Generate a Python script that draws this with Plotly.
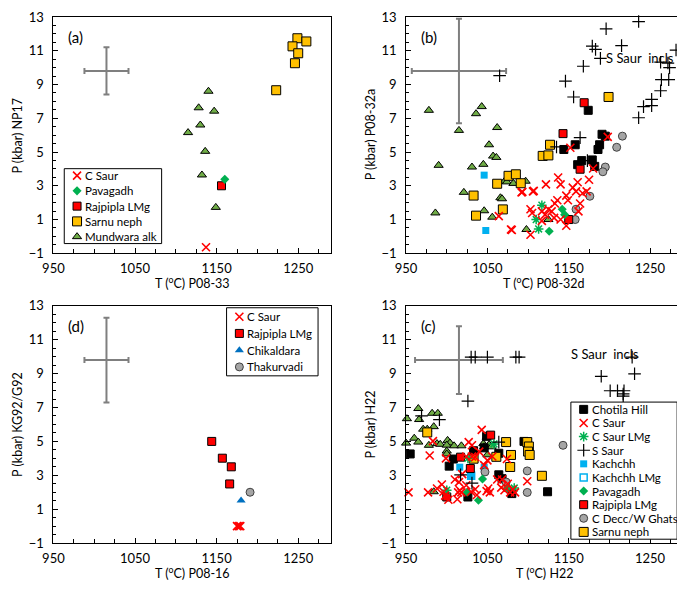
import plotly.graph_objects as go

# ---- data: (T degC, P kbar) pairs ----
# panel (a)  P08-33 / NP17
a_csaur = [(1137, -0.64)]
a_pavagadh = [(1160, 3.38)]
a_rajpipla = [(1156, 3.0)]
a_sarnu = [(1249, 11.74), (1260, 11.55), (1243, 11.26), (1250, 10.85), (1246, 10.26), (1223, 8.66)]
a_mundwara = [(1140, 8.6), (1128, 7.62), (1147, 7.42), (1130, 6.6), (1115, 6.15),
              (1136, 5.04), (1132, 3.64), (1149, 1.72)]

# panel (b)  P08-32d / P08-32a
b_mundwara = [(978, 7.47), (1043, 7.69), (1036, 7.27), (1015, 6.28), (1062, 6.45), (1052, 5.43),
              (1057, 4.76), (1061, 4.68), (990, 4.21), (1031, 4.11), (1045, 4.27), (1071, 3.27),
              (1074, 3.23), (1082, 3.14), (1097, 3.27), (1021, 2.61), (1066, 2.29), (1068, 2.23),
              (986, 1.39), (1046, 1.52), (1056, 1.14), (1098, 0.41), (1125, 1.0)]
b_sarnu = [(1076, 3.59), (1085, 3.68), (1062, 3.12), (1091, 3.15), (1033, 2.42), (1036, 1.23),
           (1069, 1.6), (1127, 5.43), (1118, 4.77), (1125, 4.8), (1199, 8.26)]
b_kachchh = [(1046, 3.63), (1048, 0.35)]
b_chotila = [(1174, 7.47), (1158, 5.43), (1144, 5.15), (1191, 6.05), (1195, 5.94), (1188, 5.43),
             (1186, 5.15), (1166, 4.49), (1161, 4.25), (1179, 4.53), (1182, 4.15)]
b_rajpipla = [(1143, 6.09), (1164, 3.98), (1150, 1.0), (1169, 7.92)]
b_cdecc = [(1216, 5.94), (1209, 5.28), (1195, 4.11), (1192, 3.83), (1176, 2.38), (1159, 1.61), (1158, 1.0)]
b_pavagadh = [(1142, 1.61), (1145, 1.29), (1126, 0.31)]
b_csaur_lmg = [(1117, 1.85), (1110, 1.0), (1113, 0.44)]
b_csaur = [(1137, 3.49), (1140, 3.08), (1122, 3.08), (1106, 2.67), (1092, 2.61), (1161, 3.21),
           (1175, 3.36), (1155, 2.89), (1159, 2.67), (1167, 2.56), (1172, 2.67), (1147, 2.42),
           (1149, 2.14), (1136, 2.14), (1133, 1.95), (1164, 1.95), (1162, 1.48), (1103, 1.61),
           (1105, 1.39), (1117, 1.48), (1125, 1.61), (1129, 1.48), (1121, 1.29), (1140, 1.0),
           (1132, 1.1), (1117, 0.92), (1147, 0.63), (1103, 0.1), (1152, 5.25), (1180, 4.02),
           (1198, 5.9), (1093, 2.64), (1107, 2.7), (1064, 1.2), (1079, 0.41), (1080, 0.38)]
b_ssaur = [(1236, 12.73), (1196, 12.3), (1179, 11.27), (1183, 11.08), (1215, 11.3), (1282, 11.04),
           (1189, 10.55), (1168, 10.08), (1263, 10.32), (1272, 10.27), (1274, 10.0), (1264, 9.29),
           (1273, 9.29), (1146, 9.2), (1263, 8.63), (1156, 8.26), (1252, 8.12), (1252, 7.75),
           (1242, 7.69), (1236, 7.03), (1065, 9.52), (1164, 5.85), (1135, 5.3), (1173, 4.49)]

# panel (d)  P08-16 / KG92/G92
d_csaur = [(1175, 0.0), (1177, 0.0), (1179, 0.0)]
d_rajpipla = [(1144, 5.0), (1157, 4.01), (1168, 3.5), (1166, 2.49)]
d_chikaldara = [(1180, 1.51)]
d_thakurvadi = [(1191, 2.0)]

# panel (c)  H22
c_mundwara = [(965, 6.94), (951, 6.34), (966, 6.29), (982, 6.66), (989, 6.66), (971, 5.72),
              (976, 5.72), (984, 5.87), (950, 4.9), (960, 5.19), (965, 4.96), (978, 4.77),
              (988, 4.87), (992, 4.83), (1001, 5.06), (1004, 4.91), (1000, 4.78), (1009, 4.74),
              (1018, 4.74), (1000, 4.43), (1000, 4.26), (984, 2.03), (1049, 5.25), (1045, 4.87),
              (1052, 4.81), (1050, 4.21), (1055, 4.68), (1046, 4.68)]
c_chotila = [(955, 4.26), (1003, 3.54), (1008, 3.96), (1033, 4.45), (1046, 4.62), (1049, 5.3),
             (1064, 4.3), (1064, 3.03), (1068, 2.8), (1026, 1.72), (1080, 1.92), (1095, 5.0), (1124, 2.03)]
c_csaur = [(953, 1.99), (979, 4.17), (983, 5.02), (977, 1.99), (988, 2.22), (994, 2.46), (996, 2.03),
           (998, 1.8), (1002, 1.56), (999, 4.0), (1010, 2.75), (1014, 1.99), (1013, 1.59), (1016, 2.12),
           (1015, 2.6), (1019, 3.07), (1018, 1.99), (1027, 4.96), (1031, 4.77), (1024, 4.11),
           (1024, 2.41), (1030, 2.03), (1035, 2.18), (1037, 1.84), (1040, 4.4), (1043, 5.68),
           (1046, 3.6), (1049, 2.07), (1051, 2.22), (1053, 1.99), (1062, 2.75), (1067, 2.27),
           (1068, 2.75), (1071, 2.12), (1075, 2.5), (1078, 1.99), (1084, 1.99), (1081, 2.16),
           (1074, 3.96), (1099, 2.65), (1050, 3.88), (1035, 4.07), (1056, 4.11), (1031, 4.11)]
c_csaur_lmg = [(1000, 2.12), (1083, 2.25), (1058, 4.85), (1026, 4.0)]
c_ssaur = [(1030, 9.97), (1035, 9.97), (1050, 9.97), (1085, 9.97), (1089, 9.97), (1026, 7.38),
           (969, 6.51), (991, 6.28), (1064, 4.96), (1017, 3.03), (1031, 2.54), (1228, 9.97),
           (1231, 8.99), (1190, 8.84), (1201, 7.99), (1210, 7.99), (1218, 7.99), (1217, 7.8), (1217, 7.67)]
c_kachchh = [(1016, 3.48), (1030, 2.97), (1046, 3.48)]
c_kachchh_lmg = [(1030, 2.97)]
c_pavagadh = [(1044, 2.78), (1025, 2.0), (1039, 1.53), (1074, 2.2)]
c_rajpipla = [(1017, 4.07), (1029, 3.4), (1000, 1.72), (1054, 5.37)]
c_cdecc = [(1047, 3.2), (1073, 2.6), (1099, 3.26), (1099, 1.99), (1143, 4.77)]
c_sarnu = [(976, 5.53), (1033, 3.98), (1073, 4.96), (1079, 4.2), (1061, 4.09), (1078, 3.49),
           (1099, 4.96), (1101, 4.7), (1100, 4.4), (1102, 4.2), (1117, 2.97)]

# uncertainty crosses, panels a, b, d, c
err_center = (1015, 9.8)
err_t = [27, 58, 27, 54]
err_p = [1.4, 3.1, 2.5, 2.0]

# legend contents per panel
leg_a = ["C Saur", "Pavagadh", "Rajpipla LMg", "Sarnu neph", "Mundwara alk"]
leg_d = ["C Saur", "Rajpipla LMg", "Chikaldara", "Thakurvadi"]
leg_c = ["Chotila Hill", "C Saur", "C Saur LMg", "S Saur", "Kachchh", "Kachchh LMg",
         "Pavagadh", "Rajpipla LMg", "C Decc/W Ghats", "Sarnu neph"]

# ---- marker styles ----
BLK = dict(color="black", width=1)
STYLE = {
    "C Saur": dict(symbol="x-thin-open", size=8, color="#FF0000", line=dict(color="#FF0000", width=1.6)),
    "C Saur LMg": dict(symbol="asterisk-open", size=8, color="#00B050", line=dict(color="#00B050", width=1.5)),
    "S Saur": dict(symbol="cross-thin-open", size=9, color="black", line=dict(color="black", width=1.2)),
    "Pavagadh": dict(symbol="diamond", size=7, color="#00B050", line=dict(width=0)),
    "Rajpipla LMg": dict(symbol="square", size=8, color="#FF0000", line=BLK),
    "Sarnu neph": dict(symbol="square", size=9, color="#FFC000", line=BLK),
    "Mundwara alk": dict(symbol="triangle-up", size=8, color="#70AD47", line=BLK),
    "Chotila Hill": dict(symbol="square", size=8, color="black", line=BLK),
    "Kachchh": dict(symbol="square", size=7, color="#00B0F0", line=dict(width=0)),
    "Kachchh LMg": dict(symbol="square-open", size=7, color="#00B0F0", line=dict(color="#00B0F0", width=1.5)),
    "C Decc/W Ghats": dict(symbol="circle", size=8, color="#A5A5A5", line=dict(color="#404040", width=1)),
    "Thakurvadi": dict(symbol="circle", size=8, color="#A5A5A5", line=dict(color="#404040", width=1)),
    "Chikaldara": dict(symbol="triangle-up", size=8, color="#0070C0", line=dict(width=0)),
}

fig = go.Figure()


def add(points, name, ax):
    fig.add_trace(go.Scatter(
        x=[p[0] for p in points], y=[p[1] for p in points], mode="markers", name=name,
        marker=STYLE[name], xaxis="x" + ax, yaxis="y" + ax, cliponaxis=False, showlegend=False,
    ))


# error crosses first so points sit on top
for ax, et, ep in zip(["", "2", "3", "4"], err_t, err_p):
    fig.add_trace(go.Scatter(
        x=[err_center[0]], y=[err_center[1]], mode="markers", marker=dict(size=1, color="#7F7F7F"),
        error_x=dict(type="constant", value=et, color="#7F7F7F", thickness=2, width=3),
        error_y=dict(type="constant", value=ep, color="#7F7F7F", thickness=2, width=3),
        xaxis="x" + ax, yaxis="y" + ax, showlegend=False, hoverinfo="skip",
    ))

# (a)
add(a_mundwara, "Mundwara alk", "")
add(a_sarnu, "Sarnu neph", "")
add(a_rajpipla, "Rajpipla LMg", "")
add(a_pavagadh, "Pavagadh", "")
add(a_csaur, "C Saur", "")

# (b)
add(b_mundwara, "Mundwara alk", "2")
add(b_sarnu, "Sarnu neph", "2")
add(b_kachchh, "Kachchh", "2")
add(b_chotila, "Chotila Hill", "2")
add(b_cdecc, "C Decc/W Ghats", "2")
add(b_rajpipla, "Rajpipla LMg", "2")
add(b_pavagadh, "Pavagadh", "2")
add(b_csaur_lmg, "C Saur LMg", "2")
add(b_csaur, "C Saur", "2")
add(b_ssaur, "S Saur", "2")

# (d)
add(d_rajpipla, "Rajpipla LMg", "3")
add(d_chikaldara, "Chikaldara", "3")
add(d_thakurvadi, "Thakurvadi", "3")
add(d_csaur, "C Saur", "3")

# (c)
add(c_mundwara, "Mundwara alk", "4")
add(c_chotila, "Chotila Hill", "4")
add(c_sarnu, "Sarnu neph", "4")
add(c_kachchh, "Kachchh", "4")
add(c_kachchh_lmg, "Kachchh LMg", "4")
add(c_cdecc, "C Decc/W Ghats", "4")
add(c_rajpipla, "Rajpipla LMg", "4")
add(c_pavagadh, "Pavagadh", "4")
add(c_csaur_lmg, "C Saur LMg", "4")
add(c_csaur, "C Saur", "4")
add(c_ssaur, "S Saur", "4")

FONT = "Lato"
# page body keeps an 8px margin, so the figure is that much smaller and
# window-pixel positions below are shifted by OFF
OFF = 8
W, H = 685 - OFF, 590 - OFF


def xdom(p0, p1):
    return [max(0, (p0 - OFF) / W), min(1, (p1 - OFF) / W)]


def ydom(top, bottom):
    return [max(0, 1 - (bottom - OFF) / H), min(1, 1 - (top - OFF) / H)]


def xax(domain, anchor):
    return dict(domain=domain, anchor=anchor, range=[950, 1290], tickvals=[950, 1050, 1150, 1250],
                ticks="inside", ticklen=5, tickcolor="black", showline=True, mirror=True,
                linecolor="black", linewidth=1, showgrid=False, zeroline=False, ticklabelstandoff=3,
                minor=dict(tick0=950, dtick=25, ticks="inside", ticklen=4, tickcolor="black"),
                tickfont=dict(size=13, color="black"))


def yax(domain, anchor):
    return dict(domain=domain, anchor=anchor, range=[-1, 13], tickvals=[-1, 1, 3, 5, 7, 9, 11, 13],
                ticks="inside", ticklen=5, tickcolor="black", showline=True, mirror=True,
                linecolor="black", linewidth=1, showgrid=False, zeroline=False, ticklabelstandoff=6,
                minor=dict(tick0=-1, dtick=0.5, ticks="inside", ticklen=3, tickcolor="black"),
                tickfont=dict(size=13, color="black"))


xl = xdom(43, 325)
xr = xdom(401.5, 682.5)
yt = ydom(9, 252)
yb = ydom(306, 550)

fig.update_layout(
    width=W, height=H, margin=dict(l=0, r=0, t=0, b=0),
    plot_bgcolor="rgba(0,0,0,0)", paper_bgcolor="white",
    font=dict(family=FONT, color="black"), showlegend=False,
    xaxis=xax(xl, "y"), yaxis=yax(yt, "x"),
    xaxis2=xax(xr, "y2"), yaxis2=yax(yt, "x2"),
    xaxis3=xax(xl, "y3"), yaxis3=yax(yb, "x3"),
    xaxis4=xax(xr, "y4"), yaxis4=yax(yb, "x4"),
    # window-pixel overlay used only for the framed legends
    xaxis5=dict(domain=[0, 1], anchor="y5", range=[OFF, OFF + W], visible=False, fixedrange=True),
    yaxis5=dict(domain=[0, 1], anchor="x5", range=[OFF + H, OFF], visible=False, fixedrange=True),
)

panels = [("x", "y", "(a)", "T (<sup>o</sup>C) P08-33", "P (kbar) NP17"),
          ("x2", "y2", "(b)", "T (<sup>o</sup>C) P08-32d", "P (kbar) P08-32a"),
          ("x3", "y3", "(d)", "T (<sup>o</sup>C) P08-16", "P (kbar) KG92/G92"),
          ("x4", "y4", "(c)", "T (<sup>o</sup>C) H22", "P (kbar) H22")]
for xa, ya, tag, xt, yt_ in panels:
    fig.add_annotation(text=tag, x=0.045, y=0.96, xref=xa + " domain", yref=ya + " domain",
                       xanchor="left", yanchor="top", showarrow=False, font=dict(size=15, color="black"))
    fig.add_annotation(text=xt, x=0.5, y=0, xref=xa + " domain", yref=ya + " domain",
                       yshift=-29, yanchor="middle", showarrow=False, font=dict(size=12.5, color="black"))
    fig.add_annotation(text=yt_, x=0, y=0.5, xref=xa + " domain", yref=ya + " domain", textangle=-90,
                       xshift=-36, xanchor="center", showarrow=False, font=dict(size=12.5, color="black"))

fig.add_annotation(text="S Saur  incls", x=1194, y=10.55, xref="x2", yref="y2", xanchor="left",
                   showarrow=False, font=dict(size=13, color="black"))
fig.add_annotation(text="S Saur  incls", x=1150, y=10.16, xref="x4", yref="y4", xanchor="left",
                   showarrow=False, font=dict(size=13, color="black"))

# framed legends: (names, left, top, right, bottom, row height) in window pixels
for names, x0, y0, x1, y1, rh in [(leg_a, 54, 165, 153, 242, 15.7),
                                  (leg_d, 219, 308, 312, 378, 17.2),
                                  (leg_c, 569, 405, 677, 546, 14.0)]:
    fig.add_shape(type="rect", x0=x0, x1=x1, y0=y0, y1=y1, xref="x5", yref="y5", layer="below",
                  line=dict(color="black", width=1), fillcolor="white")
    pad = (y1 - y0 - rh * len(names)) / 2
    for i, nm in enumerate(names):
        cy = y0 + pad + rh * (i + 0.5)
        fig.add_trace(go.Scatter(x=[x0 + 13], y=[cy], mode="markers", marker=STYLE[nm],
                                 xaxis="x5", yaxis="y5", showlegend=False, hoverinfo="skip"))
        fig.add_annotation(text=nm, x=x0 + 19, y=cy, xref="x5", yref="y5", xanchor="left",
                           yanchor="middle", showarrow=False, font=dict(size=11.5, color="black"))

fig.write_html("out.html")
